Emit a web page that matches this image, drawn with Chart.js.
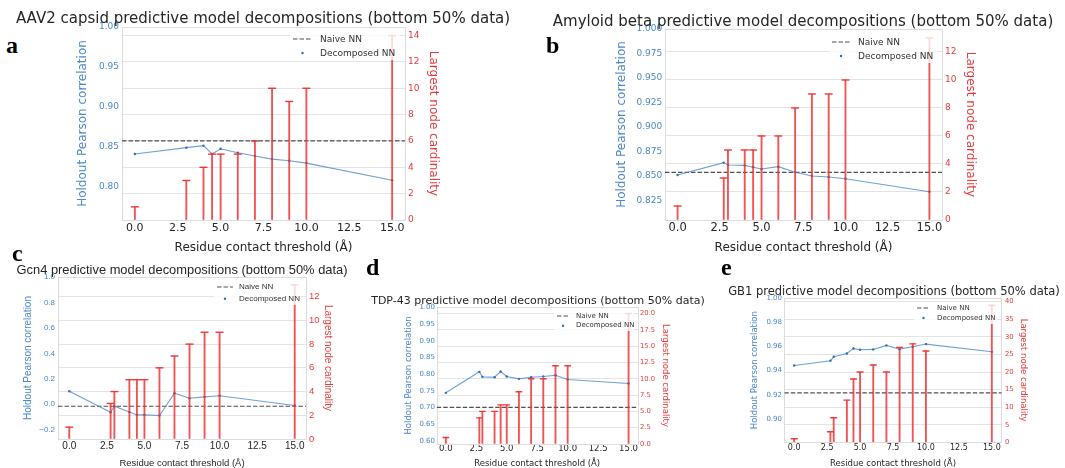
<!DOCTYPE html>
<html>
<head>
<meta charset="utf-8">
<script src="https://cdn.jsdelivr.net/npm/chart.js@4/dist/chart.umd.min.js"></script>
<style>
html,body{margin:0;padding:0;background:#fff;overflow:hidden;}
#wrap{position:relative;width:1065px;height:468px;background:#fff;overflow:hidden;}
canvas{position:absolute;}
.t{position:absolute;white-space:nowrap;line-height:1;color:#262626;}
.letter{position:absolute;font-family:"Liberation Serif","DejaVu Serif",serif;font-weight:bold;font-size:24px;line-height:1;color:#000;}
.leg{position:absolute;white-space:nowrap;line-height:1;color:#333;}
svg{position:absolute;overflow:visible;}
</style>
</head>
<body>
<div id="wrap"></div>
<script>
// ---------------- data ----------------
const xTicks = [0, 2.5, 5, 7.5, 10, 12.5, 15];

// (a) AAV2 capsid
const thresholdsA = [0, 3, 4, 4.5, 5, 6, 7, 8, 9, 10, 15];
const pearsonA = [0.8405, 0.8484, 0.8509, 0.8405, 0.847, 0.842, 0.838, 0.834, 0.832, 0.829, 0.8075];
const cardinalityA = [1, 3, 4, 5, 5, 5, 6, 10, 9, 10, 14];
const naiveA = 0.857;
const leftTicksA = [0.80, 0.85, 0.90, 0.95, 1.00];
const rightTicksA = [0, 2, 4, 6, 8, 10, 12, 14];

// (b) Amyloid beta
const thresholdsB = [0, 2.75, 3, 4, 4.5, 5, 6, 7, 8, 9, 10, 15];
const pearsonB = [0.8512, 0.8638, 0.8614, 0.8610, 0.859, 0.8573, 0.8597, 0.8539, 0.8501, 0.8491, 0.8474, 0.8341];
const cardinalityB = [1, 3, 5, 5, 5, 6, 6, 8, 9, 9, 10, 13];
const naiveB = 0.8539;
const leftTicksB = [0.825, 0.850, 0.875, 0.900, 0.925, 0.950, 0.975, 1.000];
const rightTicksB = [0, 2, 4, 6, 8, 10, 12];

// (c) Gcn4
const thresholdsC = [0, 2.75, 3, 4, 4.5, 5, 6, 7, 8, 9, 10, 15];
const pearsonC = [0.102, -0.063, -0.016, -0.062, -0.084, -0.084, -0.089, 0.087, 0.047, 0.058, 0.066, -0.01];
const cardinalityC = [1, 3, 4, 5, 5, 5, 6, 7, 8, 9, 9, 13];
const naiveC = -0.016;
const leftTicksC = [-0.2, 0.0, 0.2, 0.4, 0.6, 0.8, 1.0];
const rightTicksC = [0, 2, 4, 6, 8, 10, 12];

// (d) TDP-43
const thresholdsD = [0, 2.75, 3, 4, 4.5, 5, 6, 7, 8, 9, 10, 15];
const pearsonD = [0.7445, 0.8074, 0.7924, 0.7914, 0.8084, 0.7934, 0.7864, 0.7914, 0.7934, 0.7974, 0.7844, 0.7725];
const cardinalityD = [1, 4, 5, 5, 6, 6, 8, 10, 10, 12, 12, 20];
const naiveD = 0.7006;
const leftTicksD = [0.60, 0.65, 0.70, 0.75, 0.80, 0.85, 0.90, 0.95, 1.00];
const rightTicksD = [0, 2.5, 5, 7.5, 10, 12.5, 15, 17.5, 20];

// (e) GB1
const thresholdsE = [0, 2.75, 3, 4, 4.5, 5, 6, 7, 8, 9, 10, 15];
const pearsonE = [0.9442, 0.9481, 0.9514, 0.9541, 0.9583, 0.9572, 0.9575, 0.9608, 0.9577, 0.9597, 0.9619, 0.9555];
const cardinalityE = [1, 3, 7, 12, 18, 20, 22, 20, 27, 28, 26, 39];
const naiveE = 0.9215;
const leftTicksE = [0.90, 0.92, 0.94, 0.96, 0.98, 1.00];
const rightTicksE = [0, 5, 10, 15, 20, 25, 30, 35, 40];

// ---------------- style ----------------
const X_MIN = -0.75, X_MAX = 15.75;
const BLUE_TXT = '#4a88c6';
const RED_TXT = '#e63b3b';
const BLUE_LINE = 'rgba(74,138,204,0.8)';
const BLUE_PT = '#2f6fae';
const RED_BAR = 'rgba(238,52,52,0.85)';
const RED_CAP = '#ec3a3a';
const GRID = '#e4e4e4';
const FRAME = '#dddddd';
const DV = '"DejaVu Sans", sans-serif';
const LS = '"Liberation Sans", Arial, sans-serif';
const minus = v => (v < 0 ? '\u2212' : '') + Math.abs(v);

const panels = [
  { title: 'AAV2 capsid predictive model decompositions (bottom 50% data)', letter: 'a',
    x: thresholdsA, pearson: pearsonA, card: cardinalityA, naive: naiveA, lt: leftTicksA, rt: rightTicksA,
    L: 122, R: 405, T: 27, B: 220, yL: [0.7575, 1.0], yR: [0, 14.65],
    lw: 52, rw: 42, bh: 42, ltp: 5.8, rtp: 6.8, xtp: 6.8, lpad: 3, rpad: 3, xpad: 2,
    font: DV, fTitle: 15, fAxis: 12, fX: 11, fL: 9, fR: 9, fLeg: 9, cap: 4,
    lfmt: v => v.toFixed(2), rfmt: v => String(v),
    tx: 263, ty: 18, lx: 6, ly: 33,
    leg: { l1: 293, l2: 312, tx: 320, y1: 39, y2: 53 } },
  { title: 'Amyloid beta predictive model decompositions (bottom 50% data)', letter: 'b',
    x: thresholdsB, pearson: pearsonB, card: cardinalityB, naive: naiveB, lt: leftTicksB, rt: rightTicksB,
    L: 665, R: 942, T: 29, B: 220, yL: [0.8053, 1.0], yR: [0, 13.64],
    lw: 57, rw: 43, bh: 42, ltp: 6.5, rtp: 7.8, xtp: 6.8, lpad: 2.7, rpad: 3, xpad: 1.5,
    font: DV, fTitle: 15, fAxis: 12, fX: 11.5, fL: 9, fR: 9, fLeg: 9, cap: 4,
    lfmt: v => v.toFixed(3), rfmt: v => String(v),
    tx: 803, ty: 21, lx: 546, ly: 33,
    leg: { l1: 832, l2: 850, tx: 858, y1: 42, y2: 56 } },
  { title: 'Gcn4 predictive model decompositions (bottom 50% data)', letter: 'c',
    x: thresholdsC, pearson: pearsonC, card: cardinalityC, naive: naiveC, lt: leftTicksC, rt: rightTicksC,
    L: 58, R: 306, T: 276.7, B: 438.3, yL: [-0.2735, 1.0], yR: [0, 13.66],
    lw: 40, rw: 34, bh: 32, ltp: 4, rtp: 6, xtp: 1.6, lpad: 3, rpad: 3, xpad: 1,
    font: LS, fTitle: 12.9, fAxis: 10, fX: 10, fL: 8, fR: 9.5, fLeg: 8, fXT: 9.5, cap: 4,
    lfmt: v => minus(Number(v.toFixed(1))).replace(/^(\u2212?\d+)$/, '$1.0'), rfmt: v => String(v),
    tx: 182, ty: 270, lx: 12, ly: 241,
    leg: { l1: 217, l2: 233, tx: 239, y1: 287, y2: 298.7 } },
  { title: 'TDP-43 predictive model decompositions (bottom 50% data)', letter: 'd',
    x: thresholdsD, pearson: pearsonD, card: cardinalityD, naive: naiveD, lt: leftTicksD, rt: rightTicksD,
    L: 436.7, R: 637.7, T: 306.7, B: 444, yL: [0.591, 1.002], yR: [0, 21.0],
    lw: 36.7, rw: 37.3, bh: 28, ltp: 3.9, rtp: 4.9, xtp: 2.9, lpad: 1.7, rpad: 2.3, xpad: 0,
    font: DV, fTitle: 11, fAxis: 8.5, fX: 8.5, fL: 7, fR: 6.8, fLeg: 7, cap: 3.3,
    lfmt: v => v.toFixed(2), rfmt: v => v.toFixed(1),
    tx: 538, ty: 300, lx: 366, ly: 255,
    leg: { l1: 557, l2: 569, tx: 576, y1: 316, y2: 325.7 } },
  { title: 'GB1 predictive model decompositions (bottom 50% data)', letter: 'e',
    x: thresholdsE, pearson: pearsonE, card: cardinalityE, naive: naiveE, lt: leftTicksE, rt: rightTicksE,
    L: 784.3, R: 1001.7, T: 298.3, B: 442.3, yL: [0.8807, 1.0], yR: [0, 41.06],
    lw: 38.3, rw: 31.3, bh: 29.7, ltp: 3.9, rtp: 4.9, xtp: 2.9, lpad: 2.3, rpad: 3.3, xpad: 0.9,
    font: DV, fTitle: 11.5, fAxis: 8.5, fX: 8, fL: 7, fR: 6.8, fLeg: 7, cap: 3.5,
    lfmt: v => v.toFixed(2), rfmt: v => String(v),
    tx: 894, ty: 292, lx: 721, ly: 255,
    leg: { l1: 917, l2: 930, tx: 937, y1: 308, y2: 318 } }
];

const wrap = document.getElementById('wrap');

const framePlugin = {
  id: 'frame',
  beforeDatasetsDraw(chart) {
    const a = chart.chartArea, ctx = chart.ctx;
    ctx.save();
    ctx.strokeStyle = FRAME;
    ctx.lineWidth = 1;
    ctx.strokeRect(Math.round(a.left) + 0.5, Math.round(a.top) + 0.5, Math.round(a.right - a.left), Math.round(a.bottom - a.top));
    ctx.restore();
  }
};

function addDiv(cls, text, css) {
  const d = document.createElement('div');
  d.className = cls;
  d.textContent = text;
  Object.assign(d.style, css);
  wrap.appendChild(d);
  return d;
}

function makePanel(p) {
  const PT = 10;
  const x0 = p.L - p.lw, y0 = p.T - PT;
  const w = Math.round(p.lw + (p.R - p.L) + p.rw), h = Math.round(PT + (p.B - p.T) + p.bh);
  const c = document.createElement('canvas');
  c.width = w; c.height = h;
  c.style.left = x0 + 'px'; c.style.top = y0 + 'px';
  c.style.width = w + 'px'; c.style.height = h + 'px';
  wrap.appendChild(c);

  const linePts = p.x.map((x, i) => ({ x: x, y: p.pearson[i] }));
  const barPts = p.x.map((x, i) => ({ x: x, y: p.card[i] }));
  const naivePts = [{ x: X_MIN, y: p.naive }, { x: X_MAX, y: p.naive }];

  new Chart(c, {
    type: 'bar',
    data: {
      datasets: [
        { type: 'bar', data: barPts, yAxisID: 'y2', backgroundColor: RED_BAR, borderWidth: 0, barThickness: 1.2, order: 1 },
        { type: 'scatter', data: barPts, yAxisID: 'y2', pointStyle: 'line', pointRadius: p.cap, borderColor: RED_CAP, pointBorderColor: RED_CAP, pointBorderWidth: 1.4, order: 0 },
        { type: 'line', data: naivePts, yAxisID: 'y', borderColor: 'rgba(50,50,50,0.85)', borderDash: [4.5, 2], borderWidth: 1.2, pointRadius: 0, order: 3 },
        { type: 'line', data: linePts, yAxisID: 'y', borderColor: BLUE_LINE, borderWidth: 1.1, pointRadius: 1.2, pointBackgroundColor: BLUE_PT, pointBorderWidth: 0, tension: 0, order: 2 }
      ]
    },
    options: {
      responsive: false, animation: false, devicePixelRatio: 1,
      layout: { padding: { top: PT, left: 0, right: 0, bottom: 0 } },
      plugins: { legend: { display: false }, tooltip: { enabled: false }, title: { display: false } },
      scales: {
        x: {
          type: 'linear', min: X_MIN, max: X_MAX, offset: false,
          grid: { display: false, drawTicks: false }, border: { display: false },
          afterBuildTicks: s => { s.ticks = xTicks.map(v => ({ value: v })); },
          afterFit: s => { s.height = p.bh; },
          ticks: { padding: p.xpad, color: '#262626', font: { family: p.font, size: p.fX }, maxRotation: 0, autoSkip: false, callback: v => v.toFixed(1) },
          title: { display: true, text: 'Residue contact threshold (\u00C5)', color: '#262626', font: { family: p.font, size: p.fXT || p.fAxis }, padding: { top: 0, bottom: p.xtp } }
        },
        y: {
          type: 'linear', position: 'left', min: p.yL[0], max: p.yL[1],
          grid: { display: false, drawTicks: false }, border: { display: false },
          afterBuildTicks: s => { s.ticks = p.lt.map(v => ({ value: v })); },
          afterFit: s => { s.width = p.lw; },
          ticks: { padding: p.lpad, color: BLUE_TXT, font: { family: p.font, size: p.fL }, autoSkip: false, callback: v => p.lfmt(v) },
          title: { display: true, text: 'Holdout Pearson correlation', color: BLUE_TXT, font: { family: p.font, size: p.fAxis }, padding: { top: p.ltp, bottom: 0 } }
        },
        y2: {
          type: 'linear', position: 'right', min: p.yR[0], max: p.yR[1],
          grid: { display: true, drawTicks: false, color: GRID, lineWidth: 1 }, border: { display: false },
          afterBuildTicks: s => { s.ticks = p.rt.map(v => ({ value: v })); },
          afterFit: s => { s.width = p.rw; },
          ticks: { padding: p.rpad, color: RED_TXT, font: { family: p.font, size: p.fR }, autoSkip: false, callback: v => p.rfmt(v) },
          title: { display: true, text: 'Largest node cardinality', color: RED_TXT, font: { family: p.font, size: p.fAxis }, padding: { top: p.rtp, bottom: 0 } }
        }
      }
    },
    plugins: [framePlugin]
  });

  // title
  addDiv('t', p.title, { left: p.tx + 'px', top: (p.ty - p.fTitle / 2) + 'px', transform: 'translateX(-50%)', fontFamily: p.font, fontSize: p.fTitle + 'px' });
  // panel letter
  addDiv('letter', p.letter, { left: p.lx + 'px', top: p.ly + 'px' });
  // legend
  const lg = p.leg;
  const bg = document.createElement('div');
  Object.assign(bg.style, { position: 'absolute', background: '#fff', left: (lg.l1 - 3) + 'px', top: (lg.y1 - p.fLeg * 0.8) + 'px', width: (p.R - lg.l1 - 2) + 'px', height: (lg.y2 - lg.y1 + p.fLeg * 1.6) + 'px', opacity: 0.8 });
  wrap.appendChild(bg);
  const ns = 'http://www.w3.org/2000/svg';
  const svg = document.createElementNS(ns, 'svg');
  svg.setAttribute('width', '1065'); svg.setAttribute('height', '468');
  svg.style.left = '0px'; svg.style.top = '0px';
  const ln = document.createElementNS(ns, 'line');
  ln.setAttribute('x1', lg.l1); ln.setAttribute('x2', lg.l2);
  ln.setAttribute('y1', lg.y1); ln.setAttribute('y2', lg.y1);
  ln.setAttribute('stroke', 'rgba(50,50,50,0.85)'); ln.setAttribute('stroke-width', '1.2');
  ln.setAttribute('stroke-dasharray', '4.5 2');
  svg.appendChild(ln);
  const dot = document.createElementNS(ns, 'circle');
  dot.setAttribute('cx', (lg.l1 + lg.l2) / 2); dot.setAttribute('cy', lg.y2);
  dot.setAttribute('r', '1.2'); dot.setAttribute('fill', BLUE_PT);
  svg.appendChild(dot);
  wrap.appendChild(svg);
  addDiv('leg', 'Naive NN', { left: lg.tx + 'px', top: (lg.y1 - p.fLeg * 0.5) + 'px', fontFamily: p.font, fontSize: p.fLeg + 'px' });
  addDiv('leg', 'Decomposed NN', { left: lg.tx + 'px', top: (lg.y2 - p.fLeg * 0.5) + 'px', fontFamily: p.font, fontSize: p.fLeg + 'px' });
}

panels.forEach(makePanel);
</script>
</body>
</html>
